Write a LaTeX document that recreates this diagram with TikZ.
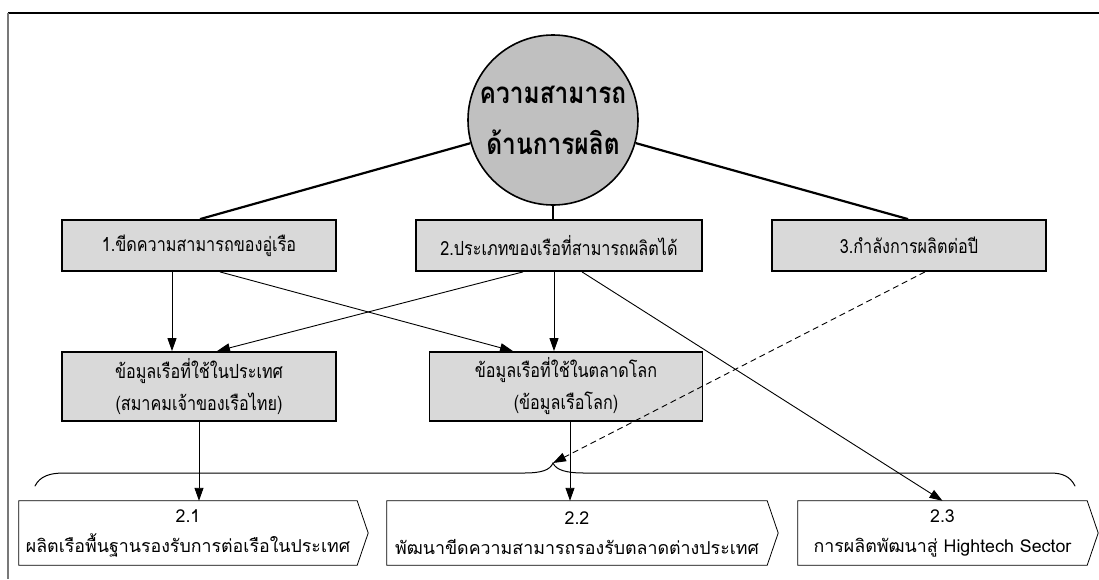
\documentclass[tikz,border=0pt]{standalone}
\usepackage{fontspec}
\setmainfont{Loma}[Script=Thai]
\newfontfamily\narrowthai{Loma}[Script=Thai, FakeStretch=0.83]
\usetikzlibrary{arrows.meta}
\definecolor{hubgray}{RGB}{192,192,192}
\definecolor{boxgray}{RGB}{217,217,217}
\definecolor{framegray}{RGB}{120,120,120}
\begin{document}
\begin{tikzpicture}[x=1pt,y=-1pt,
  hub/.style={circle, draw, line width=1.6pt, fill=hubgray, minimum size=170pt,
    inner sep=0pt, align=center, font=\narrowthai\fontsize{29.5}{51}\selectfont\bfseries},
  topbox/.style={draw, line width=1.8pt, fill=boxgray, minimum width=274pt,
    minimum height=51pt, inner sep=0pt, font=\narrowthai\fontsize{19.5}{24}\selectfont},
  databox/.style={draw, line width=1.8pt, fill=boxgray, minimum width=274pt,
    minimum height=69pt, inner sep=0pt, align=center, font=\narrowthai\fontsize{19.5}{32}\selectfont},
  outcome/.style={minimum height=64pt, inner sep=0pt, align=center,
    font=\fontsize{17.8}{30}\selectfont},
  outline/.style={draw, line width=0.8pt},
  link/.style={line width=2.2pt},
  flow/.style={line width=0.9pt, -{Triangle[length=13pt,width=9pt]}},
  bracket/.style={line width=1pt, line cap=round}]
\useasboundingbox (0,0) rectangle (1099,579);

% frame
\draw[line width=1.3pt] (8,13) -- (1099,13);
\draw[line width=1.5pt, draw=framegray] (8,13) -- (8,579);

% hub and first level
\node[hub] (c) at (553,120) {ความสามารถ\\ด้านการผลิต};
\node[topbox] (b1) at (199,245.5) {1.ขีดความสามารถของอู่เรือ};
\node[topbox, minimum width=286pt] (b2) at (559,245.5) {2.ประเภทของเรือที่สามารถผลิตได้};
\node[topbox] (b3) at (909,245.5) {3.กำลังการผลิตต่อปี};

% data sources
\node[databox] (b4) at (199,386.5) {ข้อมูลเรือที่ใช้ในประเทศ\\(สมาคมเจ้าของเรือไทย)};
\node[databox, minimum width=273pt] (b5) at (566,386.5) {ข้อมูลเรือที่ใช้ในตลาดโลก\\(ข้อมูลเรือโลก)};

% outcomes
\node[outcome, minimum width=338pt] (o1) at (188,533) {2.1\\ผลิตเรือพื้นฐานรองรับการต่อเรือในประเทศ};
\node[outcome, minimum width=380pt] (o2) at (577,533) {2.2\\พัฒนาขีดความสามารถรองรับตลาดต่างประเทศ};
\node[outcome, minimum width=289pt] (o3) at (942.5,533) {2.3\\การผลิตพัฒนาสู่ Hightech Sector};
\foreach \n in {o1,o2,o3}
  \draw[outline] (\n.north west) -- (\n.north east) -- ([xshift=11pt]\n.east)
    -- (\n.south east) -- (\n.south west) -- cycle;

% brace over the outcomes
\draw[bracket] (35,486) .. controls (40,476) and (50,473) .. (64,473)
  -- (524,473) .. controls (542,473) and (550,470) .. (553,463) coordinate (tip)
  .. controls (556,470) and (566,473) .. (584,473)
  -- (1050,473) .. controls (1062,473) and (1070,476) .. (1075,486);

% hub links
\draw[link] (c) -- ([xshift=1pt]b1.north);
\draw[link] (c.south) -- (c.south |- b2.north);
\draw[link] (c) -- ([xshift=-1pt]b3.north);

% flows
\draw[flow] ([xshift=-27pt]b1.south) -- ([xshift=-27pt]b1.south |- b4.north);
\draw[flow] ([xshift=21pt]b1.south) -- ([xshift=-53pt]b5.north);
\draw[flow] ([xshift=-36pt]b2.south) -- ([xshift=18pt]b4.north);
\draw[flow] ([xshift=-5pt]b2.south) -- ([xshift=-5pt]b2.south |- b5.north);
\draw[flow] ([xshift=23pt]b2.south) -- (o3.north);
\draw[flow, dashed, dash pattern=on 6pt off 4pt] ([xshift=16pt]b3.south) -- (tip);
\draw[flow] (b4.south) -- (b4.south |- o1.north);
\draw[flow] ([xshift=4pt]b5.south) -- ([xshift=4pt]b5.south |- o2.north);
\end{tikzpicture}
\end{document}
